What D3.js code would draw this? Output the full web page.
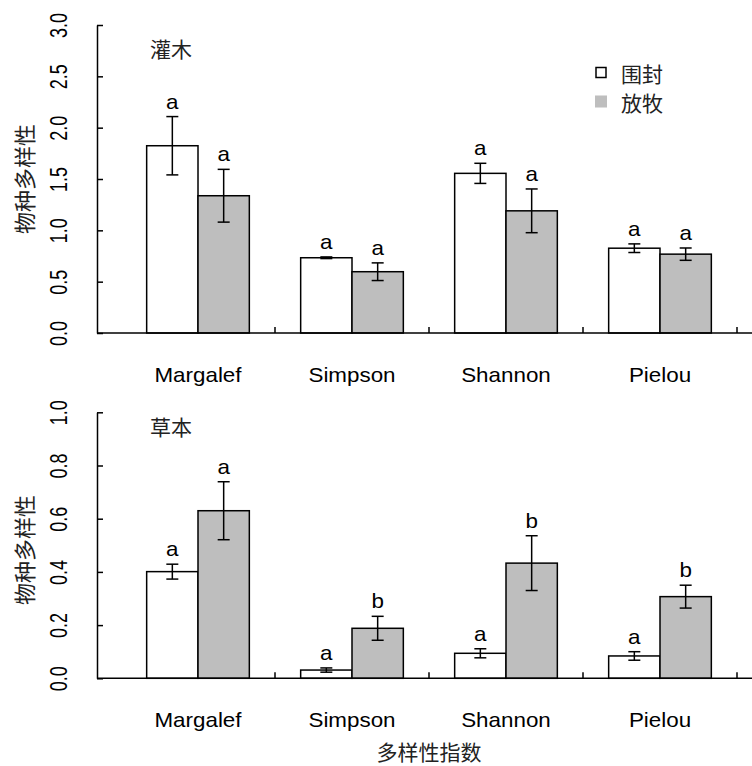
<!DOCTYPE html>
<html>
<head>
<meta charset="utf-8">
<script src="https://cdn.jsdelivr.net/npm/d3@7"></script>
<style>
  html, body { margin: 0; padding: 0; background: #fff; }
  svg { display: block; }
</style>
</head>
<body>
<svg id="chart" width="752" height="766"></svg>
<script>
// ---------------- data ----------------
const categories = ["Margalef", "Simpson", "Shannon", "Pielou"];
const seriesNames = ["围封", "放牧"];

const shrubFenced    = [1.824, 0.733, 1.555, 0.826];
const shrubFencedErr = [0.284, 0.008, 0.098, 0.042];
const shrubGrazed    = [1.337, 0.597, 1.190, 0.768];
const shrubGrazedErr = [0.257, 0.086, 0.213, 0.060];
const shrubLetters   = [["a","a"],["a","a"],["a","a"],["a","a"]];

const herbFenced    = [0.401, 0.031, 0.094, 0.084];
const herbFencedErr = [0.028, 0.008, 0.017, 0.016];
const herbGrazed    = [0.630, 0.188, 0.433, 0.307];
const herbGrazedErr = [0.109, 0.045, 0.103, 0.043];
const herbLetters   = [["a","a"],["a","b"],["a","b"],["a","b"]];

const shrubTicks = [0, 0.5, 1.0, 1.5, 2.0, 2.5, 3.0];
const herbTicks  = [0, 0.2, 0.4, 0.6, 0.8, 1.0];

const panelTitles = ["灌木", "草本"];
const yTitle = "物种多样性";
const xTitle = "多样性指数";

// ---------------- layout ----------------
const svg = d3.select("#chart");
const LATIN = "'Liberation Sans', Arial, sans-serif";
const CJK = "'Noto Sans CJK SC', sans-serif";
const axisX = 97;
const rightEdge = 752;
const fills = ["#ffffff", "#bebebe"];

const x = d3.scaleBand().domain(categories).range([121, 737])
  .paddingInner(1/3).paddingOuter(1/6);
const xInner = d3.scaleBand().domain(seriesNames).range([0, x.bandwidth()]);

function panel(cfg) {
  const y = d3.scaleLinear().domain(cfg.domain).range([cfg.bottom, cfg.top]);
  const g = svg.append("g");

  const rows = categories.map((c, i) => [
    {cat: c, s: seriesNames[0], v: cfg.fenced[i], e: cfg.fencedErr[i], l: cfg.letters[i][0], k: 0},
    {cat: c, s: seriesNames[1], v: cfg.grazed[i], e: cfg.grazedErr[i], l: cfg.letters[i][1], k: 1}
  ]).flat();

  // bars
  g.selectAll("rect.bar").data(rows).join("rect")
    .attr("class", "bar")
    .attr("x", d => x(d.cat) + xInner(d.s))
    .attr("y", d => y(d.v))
    .attr("width", xInner.bandwidth())
    .attr("height", d => y(0) - y(d.v))
    .attr("fill", d => fills[d.k])
    .attr("stroke", "#000")
    .attr("stroke-width", 1.5);

  // error bars
  const cx = d => x(d.cat) + xInner(d.s) + xInner.bandwidth() / 2;
  const eb = g.selectAll("g.err").data(rows).join("g").attr("class", "err")
    .attr("stroke", "#000").attr("stroke-width", 1.5);
  eb.append("line").attr("x1", cx).attr("x2", cx)
    .attr("y1", d => y(d.v + d.e)).attr("y2", d => y(d.v - d.e));
  eb.append("line").attr("x1", d => cx(d) - 6).attr("x2", d => cx(d) + 6)
    .attr("y1", d => y(d.v + d.e)).attr("y2", d => y(d.v + d.e));
  eb.append("line").attr("x1", d => cx(d) - 6).attr("x2", d => cx(d) + 6)
    .attr("y1", d => y(d.v - d.e)).attr("y2", d => y(d.v - d.e));

  // letters
  g.selectAll("text.sig").data(rows).join("text")
    .attr("class", "sig")
    .attr("text-anchor", "middle")
    .attr("font-family", LATIN)
    .attr("font-size", 20)
    .attr("transform", d => `translate(${cx(d)},${y(d.v + d.e) - 8}) scale(1.12,1)`)
    .text(d => d.l);

  // y axis
  const ya = g.append("g").attr("transform", `translate(${axisX},0)`)
    .call(d3.axisLeft(y).tickValues(cfg.ticks).tickFormat(d3.format(".1f"))
      .tickSizeInner(-6).tickSizeOuter(0));
  ya.select(".domain").attr("stroke-width", 1.5);
  ya.selectAll(".tick line").attr("stroke-width", 1.5);
  ya.selectAll(".tick text")
    .attr("x", null).attr("dy", null)
    .attr("font-family", LATIN).attr("font-size", 18)
    .attr("fill", "#000")
    .attr("text-anchor", "middle")
    .attr("transform", "translate(-30.5,0) scale(1.3,1) rotate(-90)");

  // x axis line with inward ticks between groups
  g.append("line").attr("x1", axisX).attr("x2", rightEdge)
    .attr("y1", y(0)).attr("y2", y(0))
    .attr("stroke", "#000").attr("stroke-width", 1.5);
  const step = x.step();
  g.selectAll("line.xt").data(categories).join("line")
    .attr("class", "xt")
    .attr("x1", c => x(c) + x.bandwidth() + step * x.paddingInner() / 2)
    .attr("x2", c => x(c) + x.bandwidth() + step * x.paddingInner() / 2)
    .attr("y1", y(0)).attr("y2", y(0) - 6)
    .attr("stroke", "#000").attr("stroke-width", 1.5);

  // category labels
  g.selectAll("text.cat").data(categories).join("text")
    .attr("class", "cat")
    .attr("text-anchor", "middle")
    .attr("font-family", LATIN).attr("font-size", 20)
    .attr("transform", c => `translate(${x(c) + x.bandwidth() / 2},${y(0) + 49}) scale(1.12,1)`)
    .text(c => c);

  // panel title
  g.append("text").attr("x", 150).attr("y", cfg.titleY)
    .attr("font-family", CJK).attr("font-size", 21).attr("fill", "#222")
    .text(cfg.title);

  // y title
  g.append("text")
    .attr("transform", `translate(33,${cfg.yTitleY}) rotate(-90)`)
    .attr("text-anchor", "middle")
    .attr("font-family", CJK).attr("font-size", 22).attr("fill", "#222")
    .text(yTitle);

  return y;
}

panel({
  domain: [0, 3], top: 25, bottom: 333,
  fenced: shrubFenced, fencedErr: shrubFencedErr,
  grazed: shrubGrazed, grazedErr: shrubGrazedErr,
  letters: shrubLetters, ticks: shrubTicks,
  title: panelTitles[0], titleY: 57, yTitleY: 179
});

panel({
  domain: [0, 1], top: 412.3, bottom: 678.3,
  fenced: herbFenced, fencedErr: herbFencedErr,
  grazed: herbGrazed, grazedErr: herbGrazedErr,
  letters: herbLetters, ticks: herbTicks,
  title: panelTitles[1], titleY: 435, yTitleY: 550
});

// legend
const leg = svg.append("g");
seriesNames.forEach((s, i) => {
  const yy = 72.5 + i * 29;
  if (i === 0) {
    leg.append("rect").attr("x", 596).attr("y", yy - 5).attr("width", 10).attr("height", 10)
      .attr("fill", fills[0]).attr("stroke", "#000").attr("stroke-width", 1.5);
  } else {
    leg.append("rect").attr("x", 595).attr("y", yy - 6).attr("width", 12).attr("height", 12)
      .attr("fill", fills[1]);
  }
  leg.append("text").attr("x", 621).attr("y", yy + 9)
    .attr("font-family", CJK).attr("font-size", 21).attr("fill", "#222")
    .text(s);
});

// x title
svg.append("text").attr("x", 429).attr("y", 760)
  .attr("text-anchor", "middle")
  .attr("font-family", CJK).attr("font-size", 21).attr("fill", "#222")
  .text(xTitle);
</script>
</body>
</html>
